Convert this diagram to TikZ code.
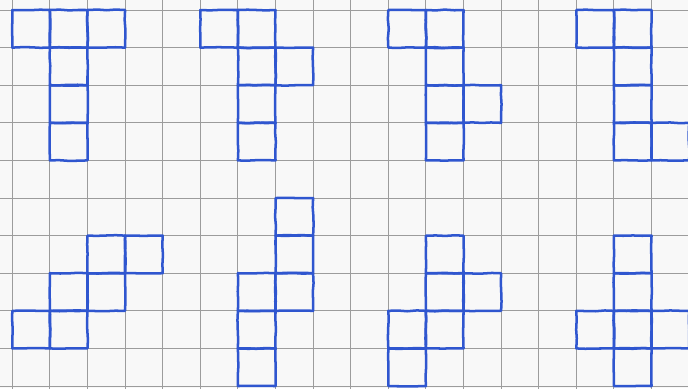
\documentclass[tikz,border=0pt]{standalone}
\usepackage{tikz}
\usetikzlibrary{decorations.pathmorphing}
\definecolor{inkblue}{HTML}{2F56CF}
\definecolor{rule}{HTML}{9C9C9C}
\definecolor{paper}{HTML}{F8F8F8}

\begin{document}
\begin{tikzpicture}[
  gridline/.style={rule, line width=0.7pt},
  pen/.style={inkblue, line width=1.9pt, line join=round, line cap=round,
              decorate, decoration={random steps, segment length=7pt, amplitude=0.35pt}},
]
\pgfmathsetseed{7}

% ---------------- sheet of squared paper ---------------------------
\useasboundingbox (-0.327,0.266) rectangle (17.97,-10.054);
\fill[paper] (-0.327,0.266) rectangle (17.97,-10.054);
\clip (-0.327,0.266) rectangle (17.97,-10.054);
\foreach \c in {0,...,18}
  \draw[gridline] (\c,1) -- (\c,-11);
\foreach \r in {0,...,10}
  \draw[gridline] (-1,-\r) -- (19,-\r);

% ---------------- top row of nets ----------------------------------
\foreach \c/\r in {0/0, 1/0, 2/0, 1/1, 1/2, 1/3}
  \draw[pen] (\c,-\r) rectangle ++(1,-1);
\foreach \c/\r in {5/0, 6/0, 6/1, 7/1, 6/2, 6/3}
  \draw[pen] (\c,-\r) rectangle ++(1,-1);
\foreach \c/\r in {10/0, 11/0, 11/1, 11/2, 12/2, 11/3}
  \draw[pen] (\c,-\r) rectangle ++(1,-1);
\foreach \c/\r in {15/0, 16/0, 16/1, 16/2, 16/3, 17/3}
  \draw[pen] (\c,-\r) rectangle ++(1,-1);

% ---------------- bottom row of nets -------------------------------
\foreach \c/\r in {0/8, 1/8, 1/7, 2/7, 2/6, 3/6}
  \draw[pen] (\c,-\r) rectangle ++(1,-1);
\foreach \c/\r in {7/5, 7/6, 7/7, 6/7, 6/8, 6/9}
  \draw[pen] (\c,-\r) rectangle ++(1,-1);
\foreach \c/\r in {11/6, 11/7, 12/7, 10/8, 11/8, 10/9}
  \draw[pen] (\c,-\r) rectangle ++(1,-1);
\foreach \c/\r in {16/6, 16/7, 15/8, 16/8, 17/8, 16/9}
  \draw[pen] (\c,-\r) rectangle ++(1,-1);

\end{tikzpicture}
\end{document}
